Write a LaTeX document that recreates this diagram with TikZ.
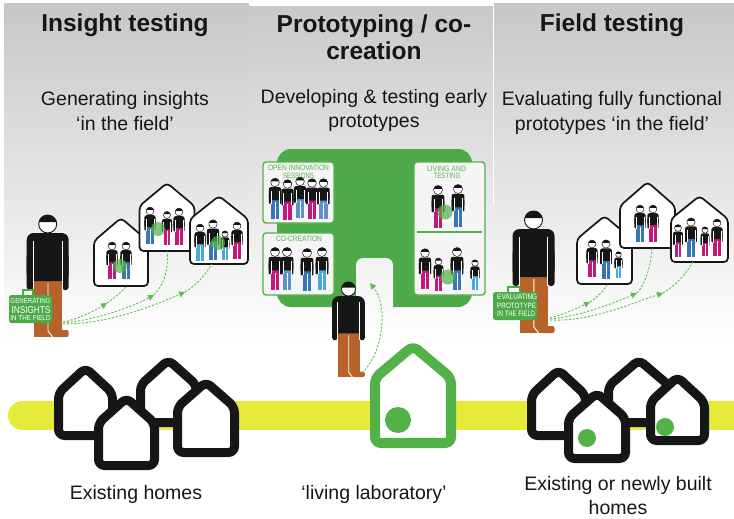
\documentclass[tikz,border=0pt]{standalone}
\usepackage{fontspec}
\setmainfont{Liberation Sans}
\setsansfont{Liberation Sans}
\usepackage{graphicx}
\usetikzlibrary{arrows.meta}

\definecolor{leafgreen}{RGB}{78,170,72}
\definecolor{dashgreen}{RGB}{96,190,84}
\definecolor{labgreen}{RGB}{82,178,72}
\definecolor{bandyellow}{RGB}{230,234,58}
\definecolor{rust}{RGB}{182,98,42}
\definecolor{pmag}{RGB}{196,25,124}
\definecolor{pblue}{RGB}{56,118,182}
\definecolor{psky}{RGB}{74,168,222}
\definecolor{psteel}{RGB}{96,146,200}
\definecolor{ink}{RGB}{22,22,22}
\definecolor{boxfill}{RGB}{245,245,245}

\tikzset{
  hut/.style={draw=ink, line width=1.7pt, fill=white, rounded corners=4pt, line join=round},
  home/.style={draw=ink, line width=9pt, fill=white, rounded corners=6pt, line join=round},
  labhome/.style={draw=labgreen, line width=10pt, fill=white, rounded corners=6pt, line join=round},
  roombox/.style={draw=labgreen, line width=1.4pt, fill=boxfill, rounded corners=3pt},
  blob/.style={fill=labgreen, opacity=0.72},
  trail/.style={dashgreen, line width=0.9pt, dash pattern=on 2.2pt off 1.6pt},
  trailtip/.style={trail, -{Triangle[length=6pt,width=6pt]}},
  title/.style={anchor=base, inner sep=0pt, font=\fontsize{24.5}{29}\selectfont\bfseries, text=ink},
  caption/.style={anchor=base, inner sep=0pt, font=\fontsize{19.5}{23}\selectfont, text=ink},
  tag/.style={inner sep=0pt, text=white, font=\sffamily},
  roomtag/.style={inner sep=0pt, text=labgreen, font=\sffamily},
}

% small house outline; #1 names the middle of its floor
\newcommand\tinyhouse[6]{%
  \filldraw[hut] (#2,#6) -- (#2,#5) -- ({(#2+#3)/2},#4) -- (#3,#5) -- (#3,#6) -- cycle;
  \coordinate (#1) at ({(#2+#3)/2},#6);}
% thick house outline: style, x0, x1, peak, eaves, floor
\newcommand\thickhouse[6]{%
  \filldraw[#1] (#2,#6) -- (#2,#5) -- ({(#2+#3)/2},#4) -- (#3,#5) -- (#3,#6) -- cycle;}
% small person: head centre x, y, scale, trouser colour
\newcommand\folk[4]{%
  \begin{scope}[shift={(#1,#2)},scale=#3]
    \fill[#4] (-3.8,15) rectangle (3.8,33);
    \fill[ink,rounded corners=2.2pt] (-5.6,4.2) rectangle (5.6,16);
    \fill[ink,rounded corners=1pt] (-5.6,9) rectangle (-3.6,19.5);
    \fill[ink,rounded corners=1pt] (3.6,9) rectangle (5.6,19.5);
    \draw[white,line width=0.35pt] (-3.7,8) -- (-3.7,19.5) (3.7,8) -- (3.7,19.5) (0,18) -- (0,33);
    \filldraw[fill=white,draw=ink,line width=0.5pt] (0,0) circle (3.9);
    \fill[ink] (195:3.9) arc[start angle=195,end angle=345,radius=3.9] -- cycle;
  \end{scope}}
% tall person: head centre x, y, scale
\newcommand\walker[3]{%
  \begin{scope}[shift={(#1,#2)},scale=#3]
    \fill[rust] (-13.7,55) rectangle (14.3,113);
    \fill[rust,rounded corners=2pt] (8,106) rectangle (21,113);
    \draw[white,line width=0.9pt] (0.3,59) -- (0.3,107) -- (5,113);
    \fill[ink,rounded corners=7pt] (-21,9) rectangle (21,57);
    \fill[ink,rounded corners=3pt] (-21,30) rectangle (-14.2,66);
    \fill[ink,rounded corners=3pt] (14.2,30) rectangle (21,66);
    \draw[white,line width=0.9pt] (-14.3,17) -- (-14.3,66) (14.3,17) -- (14.3,66);
    \filldraw[fill=white,draw=ink,line width=0.9pt] (0,0) circle (9);
    \fill[ink] (192:9) arc[start angle=192,end angle=348,radius=9] -- cycle;
  \end{scope}}

\begin{document}
\begin{tikzpicture}[x=1pt,y=-1pt]
\useasboundingbox (0,0) rectangle (734,519);
\clip (0,0) rectangle (734,519);
\fill[white] (0,0) rectangle (734,519);

% three backdrop panels
\shade[top color=black!22,bottom color=white] (4,4) rectangle (249,342);
\shade[top color=black!21,bottom color=white] (249,7) rectangle (494,342);
\shade[top color=black!22,bottom color=white] (494,4) rectangle (734,342);
\draw[white,line width=0.8pt] (493.5,5) -- (493.5,205);

% yellow street
\draw[bandyellow,line width=29pt,line cap=round] (22.5,415.5) coordinate (bandL) -- (760,415.5) coordinate (bandR);

% existing homes
\thickhouse{home}{58.5}{112.5}{368}{393}{435.5}
\thickhouse{home}{140.5}{196.5}{360}{385}{422.5}
\thickhouse{home}{98.5}{154.5}{398}{423}{465.5}
\thickhouse{home}{177.5}{234.5}{382}{407}{452.5}

% living laboratory
\thickhouse{labhome}{375}{451}{346}{378}{443}
\fill[labgreen] (398,420) circle (13);

% existing or newly built homes
\thickhouse{home}{531.5}{585.5}{370}{395}{435.5}
\thickhouse{home}{608.5}{669.5}{360}{386}{422.5}
\thickhouse{home}{568.5}{625.5}{393}{418}{458.5}
\thickhouse{home}{650.5}{704.5}{377}{402}{440.5}
\fill[labgreen] (587,438) circle (9);
\fill[labgreen] (665,427) circle (9);

% ---------- insight testing ----------
\tinyhouse{hA}{94}{148}{218}{241}{286}
\folk{112}{246}{1}{pmag}\folk{126}{246}{1}{pblue}
\fill[blob] (120,266) circle (7);
\tinyhouse{hB}{139.5}{194.5}{183}{206}{251}
\folk{150}{211}{1}{pblue}\folk{167}{215}{0.9}{pmag}\folk{179}{212}{1}{pmag}
\fill[blob] (158,229) circle (7);
\tinyhouse{hC}{190}{248}{196}{219}{264}
\folk{200}{228}{1}{psky}\folk{213}{224}{1.08}{pblue}\folk{225}{234}{0.8}{psky}\folk{237}{226}{1}{pmag}
\fill[blob] (218,243) circle (7);

\walker{47.7}{224}{1}
\draw[leafgreen,line width=1.6pt] (23,295) -- (23,290) -- (33,290) -- (33,295);
\fill[leafgreen,rounded corners=2.5pt] (9,295) rectangle (52,323);
\node[tag] (gi1) at (30.5,301.5) {\resizebox{40pt}{5pt}{GENERATING}};
\node[tag] (gi2) at (31,309.6) {\resizebox{39pt}{7pt}{INSIGHTS}};
\node[tag] (gi3) at (30.5,318.2) {\resizebox{40pt}{5pt}{IN THE FIELD}};

\coordinate (gs1) at (63,322);
\coordinate (gs2) at (63,323);
\coordinate (gs3) at (63,324);
\coordinate (gm1) at (107,303);
\coordinate (gm2) at (154,295);
\coordinate (gm3) at (185,292);
\coordinate (ge1) at (127,286);
\coordinate (ge3) at (212,264);
\draw[trailtip] (gs1) .. controls (82,318) and (96,310) .. (gm1);
\draw[trail] (gm1) .. controls (116,297) and (122,291) .. (ge1);
\draw[trailtip] (gs2) .. controls (95,320) and (130,308) .. (gm2);
\draw[trail] (gm2) .. controls (164,285) and (169,268) .. (hB);
\draw[trailtip] (gs3) .. controls (110,324) and (155,305) .. (gm3);
\draw[trail] (gm3) .. controls (197,285) and (206,274) .. (ge3);

% ---------- prototyping / co-creation ----------
\fill[leafgreen,rounded corners=14pt] (277,149) rectangle (472,307);
\begin{scope}
  \clip[rounded corners=7pt] (356,258) rectangle (393,330);
  \shade[top color=black!21,bottom color=white] (249,7) rectangle (494,342);
\end{scope}

\filldraw[roombox] (263,162) rectangle (334,223);
\node[roomtag] (oi1) at (298.5,167.8) {\resizebox{61pt}{5.4pt}{OPEN INNOVATION}};
\node[roomtag] (oi2) at (298.5,175.5) {\resizebox{31pt}{5.4pt}{SESSIONS}};
\folk{275}{182.5}{1.1}{pblue}\folk{287.5}{184}{1.1}{pmag}\folk{300}{181.5}{1.1}{psteel}\folk{312}{183}{1.1}{pmag}\folk{323.5}{183}{1.1}{psteel}

\filldraw[roombox] (263,233) rectangle (334,295);
\node[roomtag] (cc) at (299,239) {\resizebox{46pt}{5.4pt}{CO-CREATION}};
\folk{275}{252}{1.15}{pmag}\folk{287}{252}{1.15}{psteel}\folk{307}{253}{1.15}{pblue}\folk{322}{252}{1.15}{psky}

\filldraw[roombox] (414,162) rectangle (485,295);
\node[roomtag] (lt1) at (446.5,168.8) {\resizebox{39pt}{5.4pt}{LIVING AND}};
\node[roomtag] (lt2) at (447,176.3) {\resizebox{27pt}{5.4pt}{TESTING}};
\folk{438}{190}{1.15}{pmag}\folk{458}{189}{1.15}{pblue}
\fill[blob] (445,212) circle (7.5);
\draw[labgreen,line width=1.4pt] (417,232) -- (482,232);
\folk{425}{253}{1.1}{pmag}\folk{438.5}{261.5}{0.88}{pmag}\folk{457}{252}{1.15}{pblue}\folk{475}{263}{0.82}{psky}
\fill[blob] (448,277) circle (7.5);

\walker{348.5}{289}{0.78}
\coordinate (ms) at (362,373);
\coordinate (door) at (370,283);
\draw[trailtip] (ms) .. controls (384,352) and (388,305) .. (door);

% ---------- field testing ----------
\tinyhouse{rA}{577}{632}{216}{239}{284}
\folk{592}{244}{1}{pmag}\folk{606}{244}{1.05}{pblue}\folk{618.5}{254.5}{0.72}{psky}
\tinyhouse{rB}{620}{675}{182}{206}{248}
\folk{640}{209}{1}{pblue}\folk{653}{209}{1}{pmag}
\tinyhouse{rC}{671}{728}{196}{219}{262}
\folk{678}{228}{0.88}{pmag}\folk{691}{222}{1.05}{pblue}\folk{705}{230}{0.8}{pmag}\folk{717}{223}{1}{pmag}

\walker{533.5}{220}{1}
\draw[leafgreen,line width=1.6pt] (508,292) -- (508,287) -- (520,287) -- (520,292);
\fill[leafgreen,rounded corners=2.5pt] (493,292) rectangle (537,320);
\node[tag,anchor=west] (ev1) at (497,297) {\resizebox{40pt}{5.4pt}{EVALUATING}};
\node[tag,anchor=west] (ev2) at (497,305.5) {\resizebox{39pt}{5.4pt}{PROTOTYPE}};
\node[tag,anchor=west] (ev3) at (497,314) {\resizebox{38pt}{5.4pt}{IN THE FIELD}};

\coordinate (fs1) at (550,318);
\coordinate (fs2) at (550,319);
\coordinate (fs3) at (550,320);
\coordinate (fm1) at (590,302);
\coordinate (fm2) at (637,293);
\coordinate (fm3) at (663,293);
\coordinate (fe1) at (608,284);
\coordinate (fe2) at (652,248);
\coordinate (fe3) at (693,262);
\draw[trailtip] (fs1) .. controls (565,314) and (578,308) .. (fm1);
\draw[trail] (fm1) .. controls (598,297) and (604,290) .. (fe1);
\draw[trailtip] (fs2) .. controls (580,316) and (612,304) .. (fm2);
\draw[trail] (fm2) .. controls (646,283) and (651,265) .. (fe2);
\draw[trailtip] (fs3) .. controls (590,322) and (630,304) .. (fm3);
\draw[trail] (fm3) .. controls (675,286) and (686,274) .. (fe3);

% ---------- captions ----------
\node[title] (t1) at (125,32) {Insight testing};
\node[title] (t2a) at (374,33) {Prototyping / co-};
\node[title] (t2b) at (374,60) {creation};
\node[title] (t3) at (612,32) {Field testing};

\node[caption] (s1a) at (125,106) {Generating insights};
\node[caption] (s1b) at (125,130) {‘in the field’};
\node[caption] (s2a) at (374,103) {Developing \& testing early};
\node[caption] (s2b) at (374,127) {prototypes};
\node[caption] (s3a) at (612,106) {Evaluating fully functional};
\node[caption] (s3b) at (612,130) {prototypes ‘in the field’};

\node[caption] (b1) at (136,499) {Existing homes};
\node[caption] (b2) at (374,499) {‘living laboratory’};
\node[caption] (b3a) at (618,490) {Existing or newly built};
\node[caption] (b3b) at (618,514) {homes};
\end{tikzpicture}
\end{document}
